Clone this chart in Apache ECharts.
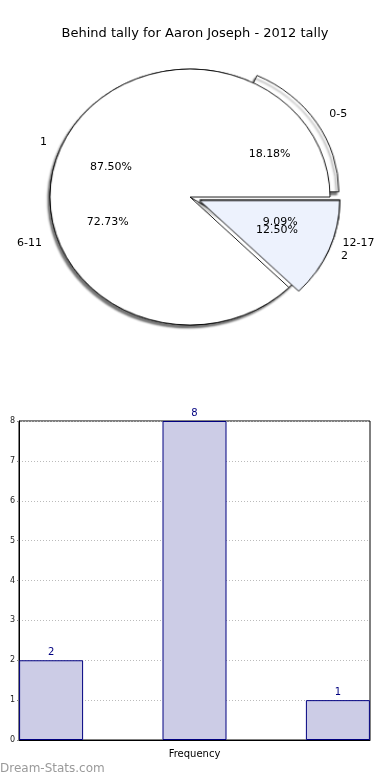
<!DOCTYPE html>
<html>
<head>
<meta charset="utf-8">
<script src="https://cdn.jsdelivr.net/npm/echarts@6/dist/echarts.min.js"></script>
<style>
html,body{margin:0;padding:0;background:#fff;}
#wrap{position:relative;width:390px;height:780px;overflow:hidden;}
#p{position:absolute;left:0;top:0;width:390px;height:780px;transform-origin:190px 197px;transform:scale(1.045,0.955);}
#c{position:absolute;left:0;top:0;width:390px;height:780px;}
</style>
</head>
<body>
<div id="wrap"><div id="p"></div><div id="c"></div></div>
<script>
// Data
const titleText = 'Behind tally for Aaron Joseph - 2012 tally';
const intervalNames = ['0-5', '6-11', '12-17'];
const intervalValues = [2, 8, 1];
const countNames = ['1', '2'];
const countValues = [7, 1];
const barPositions = [0, 1, 2];
const barValues = [2, 8, 1];
const yTicks = [0, 1, 2, 3, 4, 5, 6, 7, 8];

const FONT = 'DejaVu Sans';
const C = [190, 197];
const R = 134;
const SX = 1.045, SY = 0.955;
const DX = 4, DY = 2;

function pct(p) { return p.percent.toFixed(2) + '%'; }

const pieA = intervalNames.map((n, i) => ({ name: n, value: intervalValues[i], selected: i === 0 || i === 2 }));
const pieB = countNames.map((n, i) => ({ name: n, value: countValues[i], selected: i === 1,
  itemStyle: i === 1 ? { color: '#edf2fd' } : undefined }));
const plainA = intervalNames.map((n, i) => ({ name: n, value: intervalValues[i] }));
const plainB = countNames.map((n, i) => ({ name: n, value: countValues[i] }));

function ellipseLayout(params) {
  const r = params.labelRect;
  const cx = r.x + r.width / 2, cy = r.y + r.height / 2;
  return {
    x: C[0] + (cx - C[0]) * SX + DX,
    y: C[1] + (cy - C[1]) * SY + DY,
    align: 'center', verticalAlign: 'middle', hideOverlap: false
  };
}

function labelSeries(data, radius, fmt) {
  return {
    type: 'pie', center: C, radius: [0, radius], startAngle: 0, clockwise: false,
    silent: true, z: 3, animation: false, avoidLabelOverlap: false,
    itemStyle: { color: 'rgba(0,0,0,0)', borderWidth: 0 },
    label: { show: true, position: 'inside', formatter: fmt, color: '#000', fontSize: 11, fontFamily: FONT },
    labelLine: { show: false },
    labelLayout: ellipseLayout,
    emphasis: { disabled: true },
    data: data
  };
}

// Pie slices (drawn in an elliptically scaled layer)
const pie = echarts.init(document.getElementById('p'), null, { renderer: 'canvas' });
pie.setOption({
  animation: false,
  series: [
    {
      type: 'pie', center: C, radius: [0, R], startAngle: 0, clockwise: false,
      selectedMode: 'multiple', selectedOffset: 10, z: 1, animation: false,
      itemStyle: { color: '#fff', borderColor: '#000', borderWidth: 0.9,
        shadowColor: 'rgba(0,0,0,0.55)', shadowBlur: 2, shadowOffsetX: -2, shadowOffsetY: 3 },
      label: { show: false }, labelLine: { show: false },
      emphasis: { disabled: true },
      data: pieA
    },
    {
      type: 'pie', center: C, radius: [0, R], startAngle: 0, clockwise: false,
      selectedMode: 'multiple', selectedOffset: 10, z: 2, animation: false,
      itemStyle: { color: '#fff', borderColor: '#000', borderWidth: 0.9 },
      label: { show: false }, labelLine: { show: false },
      emphasis: { disabled: true },
      data: pieB
    }
  ]
});

const chart = echarts.init(document.getElementById('c'), null, { renderer: 'canvas' });
chart.setOption({
  animation: false,
  backgroundColor: 'transparent',
  title: {
    text: titleText, left: 'center', top: 22,
    textStyle: { fontFamily: FONT, fontSize: 13, fontWeight: 'normal', color: '#000' }
  },
  graphic: [{
    type: 'text', left: 0, top: 763,
    style: { text: 'Dream-Stats.com', fill: '#9a9a9a', fontSize: 12, fontFamily: FONT }
  }],
  grid: { left: 19, right: 20, top: 421, bottom: 40, containLabel: false, outerBoundsMode: 'none',
    show: true, borderColor: '#000', borderWidth: 1, backgroundColor: '#fff' },
  xAxis: {
    type: 'value', min: -0.2238, max: 2.2238,
    axisLine: { show: true, onZero: false, lineStyle: { color: '#000' } },
    axisTick: { show: false }, axisLabel: { show: false }, splitLine: { show: false },
    name: 'Frequency', nameLocation: 'middle', nameGap: 9,
    nameTextStyle: { fontFamily: FONT, fontSize: 10, color: '#000' }
  },
  yAxis: {
    type: 'value', min: yTicks[0], max: yTicks[yTicks.length - 1], interval: 1,
    axisLine: { show: true, onZero: false, lineStyle: { color: '#000' } },
    axisTick: { show: true, length: 2, lineStyle: { color: '#888' } },
    axisLabel: { fontFamily: FONT, fontSize: 8, color: '#222', margin: 4 },
    splitLine: { show: true, lineStyle: { color: '#bbb', type: [1, 2] } },
    name: 'Stat Intervals', nameLocation: 'middle', nameRotate: 90, nameGap: 16,
    nameTextStyle: { fontFamily: FONT, fontSize: 10, color: '#000' }
  },
  series: [
    {
      type: 'bar', barWidth: 64,
      data: barPositions.map((x, i) => [x, barValues[i]]),
      itemStyle: { color: '#ccccE6', borderColor: '#000080', borderWidth: 1 },
      label: { show: true, position: 'top', distance: 3, color: '#000080', fontSize: 10, fontFamily: FONT,
        formatter: p => p.value[1] }
    },
    labelSeries(plainA, 166, pct),
    labelSeries(plainB, 166, pct),
    labelSeries(plainA, 322, '{b}'),
    labelSeries(plainB, 306, '{b}')
  ]
});
</script>
</body>
</html>
